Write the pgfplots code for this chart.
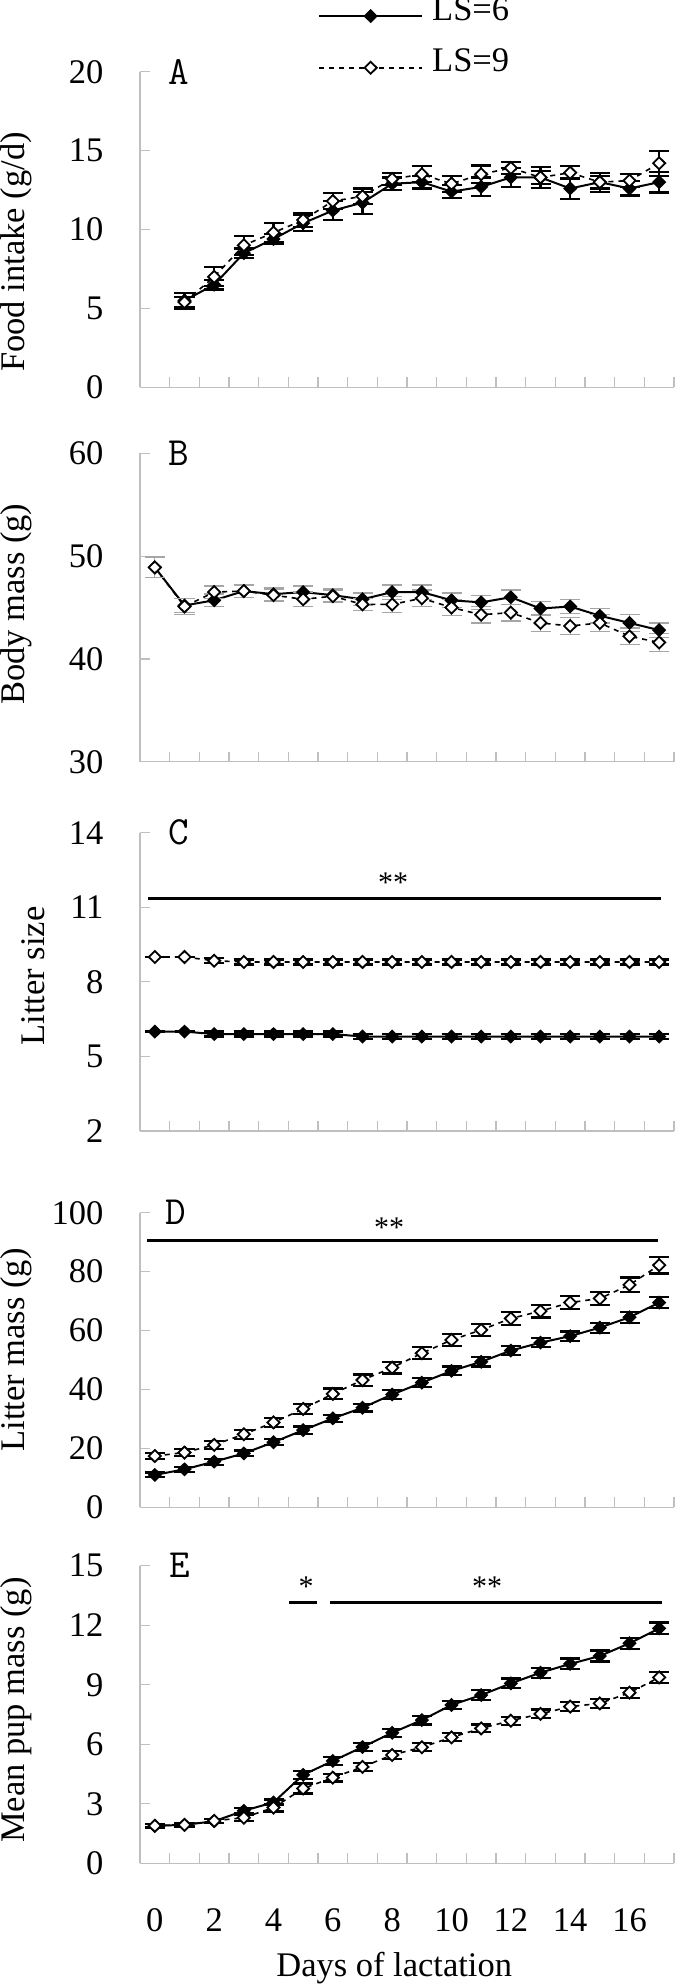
\documentclass[border=0pt]{standalone}
\usepackage{fontspec}
\setmainfont{Liberation Serif}
\usepackage{pgfplots}
\pgfplotsset{compat=1.18}
\usepackage{pgfplotstable}

\pgfplotstableread{
d m6 e6 m9 e9
1 5.5 0.5 5.4 0.3
2 6.5 0.3 7.0 0.6
3 8.5 0.3 9.0 0.6
4 9.4 0.3 9.8 0.6
5 10.4 0.5 10.6 0.45
6 11.2 0.6 11.8 0.5
7 11.7 0.7 12.1 0.5
8 12.9 0.4 13.2 0.4
9 13.0 0.4 13.5 0.5
10 12.4 0.4 12.9 0.5
11 12.7 0.6 13.5 0.55
12 13.3 0.6 13.9 0.4
13 13.3 0.65 13.3 0.4
14 12.6 0.65 13.6 0.4
15 13.0 0.6 13.0 0.4
16 12.6 0.45 13.1 0.4
17 13.0 0.65 14.2 0.8
}\tabA

\pgfplotstableread{
d m6 e6 m9 e9
0 48.9 1.0 48.9 1.0
1 45.2 0.7 45.1 0.75
2 45.7 0.6 46.5 0.6
3 46.6 0.6 46.6 0.6
4 46.3 0.6 46.2 0.6
5 46.5 0.6 45.8 0.7
6 46.2 0.6 46.1 0.6
7 45.8 0.6 45.3 0.6
8 46.5 0.7 45.3 0.8
9 46.5 0.7 45.9 0.8
10 45.7 0.7 45.0 0.8
11 45.5 0.7 44.3 0.8
12 46.0 0.7 44.5 0.8
13 44.9 0.7 43.5 0.8
14 45.1 0.7 43.2 0.8
15 44.2 0.7 43.5 0.8
16 43.5 0.8 42.2 0.8
17 42.8 0.7 41.6 0.9
}\tabB

\pgfplotstableread{
d m6 e6 m9 e9
0 6.0 0.0 9.0 0.0
1 6.0 0.0 9.0 0.0
2 5.9 0.1 8.85 0.1
3 5.9 0.1 8.8 0.1
4 5.9 0.1 8.8 0.1
5 5.9 0.1 8.8 0.1
6 5.9 0.1 8.8 0.1
7 5.8 0.1 8.8 0.1
8 5.8 0.1 8.8 0.1
9 5.8 0.1 8.8 0.1
10 5.8 0.1 8.8 0.1
11 5.8 0.1 8.8 0.1
12 5.8 0.1 8.8 0.1
13 5.8 0.1 8.8 0.1
14 5.8 0.1 8.8 0.1
15 5.8 0.1 8.8 0.1
16 5.8 0.1 8.8 0.1
17 5.8 0.1 8.8 0.1
}\tabC

\pgfplotstableread{
d m6 e6 m9 e9
0 11.0 0.8 17.4 1.0
1 12.9 0.8 18.6 1.2
2 15.5 1.0 21.2 1.3
3 18.3 1.0 24.8 1.5
4 22.1 1.0 28.8 1.6
5 26.2 1.2 33.4 1.7
6 30.2 1.2 38.5 1.8
7 33.8 1.3 43.2 1.9
8 38.3 1.5 47.4 2.0
9 42.3 1.5 52.3 2.0
10 46.3 1.5 56.8 2.0
11 49.4 1.6 60.2 2.1
12 53.2 1.6 64.1 2.1
13 55.9 1.6 66.6 2.2
14 58.1 1.6 69.5 2.2
15 61.0 1.7 70.9 2.3
16 64.5 1.8 75.5 2.5
17 69.5 1.8 82.2 2.8
}\tabD

\pgfplotstableread{
d m6 e6 m9 e9
0 1.89 0.08 1.89 0.08
1 1.94 0.08 1.94 0.08
2 2.12 0.10 2.14 0.10
3 2.65 0.12 2.30 0.15
4 3.07 0.15 2.81 0.20
5 4.46 0.20 3.77 0.25
6 5.16 0.20 4.32 0.20
7 5.86 0.20 4.86 0.20
8 6.58 0.20 5.46 0.20
9 7.22 0.22 5.85 0.20
10 7.98 0.22 6.35 0.20
11 8.48 0.25 6.80 0.20
12 9.07 0.25 7.19 0.20
13 9.61 0.25 7.53 0.22
14 10.05 0.27 7.90 0.22
15 10.45 0.28 8.06 0.22
16 11.09 0.28 8.60 0.25
17 11.84 0.30 9.37 0.28
}\tabE

\newcommand{\bigf}{\fontsize{34.5bp}{40bp}\selectfont}

\tikzset{
  letter/.style={font=\ttfamily\fontsize{40bp}{40bp}\selectfont, anchor=center},
  star/.style={font=\fontsize{30bp}{30bp}\selectfont, anchor=center, yshift=-5bp},
}

\pgfplotsset{
  panel/.style={
    scale only axis, width=534bp, clip=false,
    anchor=south west,
    xmin=-0.5, xmax=17.5,
    axis x line*=bottom, axis y line*=left,
    axis line style={black!25, line width=1.2bp, -},
    xtick={-0.5,0.5,...,17.5}, xticklabels={},
    tick align=inside,
    major tick length=10bp,
    every tick/.style={black!25, line width=1.2bp},
    tick label style={font=\bigf},
    /pgf/number format/assume math mode=true,
    yticklabel style={xshift=-33bp},
    label style={font=\bigf},
    every axis y label/.style={rotate=90, anchor=base, font=\bigf},
  },
  s6/.style={black, line width=2bp, mark=diamond*, mark size=6bp,
    mark options={solid, xscale=1.35, fill=black, line width=1.5bp},
    /pgfplots/error bars/y dir=both, /pgfplots/error bars/y explicit,
    /pgfplots/error bars/error bar style={line width=2.2bp, black, solid},
    /pgfplots/error bars/error mark options={rotate=90, mark size=10bp, line width=2.2bp, black, solid}},
  s9/.style={black, line width=1.6bp, dash pattern=on 5bp off 5bp,
    mark=diamond*, mark size=6bp,
    mark options={solid, xscale=1.35, fill=white, draw=black, line width=1.8bp},
    /pgfplots/error bars/y dir=both, /pgfplots/error bars/y explicit,
    /pgfplots/error bars/error bar style={line width=2.2bp, black, solid},
    /pgfplots/error bars/error mark options={rotate=90, mark size=10bp, line width=2.2bp, black, solid}},
  gb/.style={
    /pgfplots/error bars/error bar style={line width=1.3bp, black!35, solid},
    /pgfplots/error bars/error mark options={rotate=90, mark size=10bp, line width=1.3bp, black!35, solid}},
}

\begin{document}
\begin{tikzpicture}
\useasboundingbox (0bp,0bp) rectangle (675bp,-1987bp);

% Panel A
\begin{axis}[panel, at={(140bp,-387.3bp)}, height=315.6bp,
  ymin=0, ymax=20, ytick={0,5,10,15,20},
  ylabel={Food intake (g/d)},
  ylabel style={at={(rel axis cs:-0.2163,0.4287)}},
  legend style={at={(rel axis cs:0.3333,1.236)}, anchor=north west,
    draw=none, fill=none, inner sep=0pt, row sep=27bp, column sep=9bp,
    nodes={inner sep=0pt}, font=\bigf},
  legend cell align=left,
  legend image code/.code={\draw[mark repeat=2, mark phase=2, yshift=-6.5bp, #1] plot coordinates {(0bp,0bp) (51.5bp,0bp) (103bp,0bp)};},
]
\addplot[s6] table[x=d, y=m6, y error=e6] {\tabA};
\addlegendentry{LS=6}
\addplot[s9] table[x=d, y=m9, y error=e9] {\tabA};
\addlegendentry{LS=9}
\node[letter] at (axis cs:0.8,20) {A};
\end{axis}

% Panel B
\begin{axis}[panel, at={(140bp,-761.7bp)}, height=308.4bp,
  ymin=30, ymax=60, ytick={30,40,50,60},
  ylabel={Body mass (g)},
  ylabel style={at={(rel axis cs:-0.2163,0.511)}},
]
\addplot[s6, gb] table[x=d, y=m6, y error=e6] {\tabB};
\addplot[s9, gb] table[x=d, y=m9, y error=e9] {\tabB};
\node[letter] at (axis cs:0.8,60) {B};
\end{axis}

% Panel C
\begin{axis}[panel, at={(140bp,-1131bp)}, height=298.3bp,
  ymin=2, ymax=14, ytick={2,5,8,11,14},
  ylabel={Litter size},
  ylabel style={at={(rel axis cs:-0.178,0.52)}},
]
\addplot[s6] table[x=d, y=m6, y error=e6] {\tabC};
\addplot[s9] table[x=d, y=m9, y error=e9] {\tabC};
\addplot[black, line width=3bp] coordinates {(-0.23,11.36) (17.05,11.36)};
\node[star] at (axis cs:8.03,12.2) {**};
\node[letter] at (axis cs:0.8,14) {C};
\end{axis}

% Panel D
\begin{axis}[panel, at={(140bp,-1507.3bp)}, height=294.6bp,
  ymin=0, ymax=100, ytick={0,20,40,60,80,100},
  ylabel={Litter mass (g)},
  ylabel style={at={(rel axis cs:-0.2163,0.534)}},
]
\addplot[s6] table[x=d, y=m6, y error=e6] {\tabD};
\addplot[s9] table[x=d, y=m9, y error=e9] {\tabD};
\addplot[black, line width=3bp] coordinates {(-0.25,90.4) (16.97,90.4)};
\node[star] at (axis cs:7.9,96.6) {**};
\node[letter] at (axis cs:0.7,100) {D};
\end{axis}

% Panel E
\begin{axis}[panel, at={(140bp,-1863.3bp)}, height=297.6bp,
  ymin=0, ymax=15, ytick={0,3,6,9,12,15},
  ylabel={Mean pup mass (g)},
  ylabel style={at={(rel axis cs:-0.2163,0.515)}},
  extra x ticks={0,2,4,6,8,10,12,14,16},
  extra x tick labels={0,2,4,6,8,10,12,14,16},
  extra x tick style={major tick length=0bp, xticklabel style={anchor=base, yshift=-68bp}},
  xlabel={Days of lactation},
  xlabel style={at={(rel axis cs:0.476,0)}, anchor=base, yshift=-112.7bp},
]
\addplot[s6] table[x=d, y=m6, y error=e6] {\tabE};
\addplot[s9] table[x=d, y=m9, y error=e9] {\tabE};
\addplot[black, line width=3bp] coordinates {(4.53,13.17) (5.47,13.17)};
\addplot[black, line width=3bp] coordinates {(5.9,13.17) (17.1,13.17)};
\node[star] at (axis cs:5.1,14.2) {*};
\node[star] at (axis cs:11.2,14.2) {**};
\node[letter] at (axis cs:0.85,15) {E};
\end{axis}
\end{tikzpicture}
\end{document}
